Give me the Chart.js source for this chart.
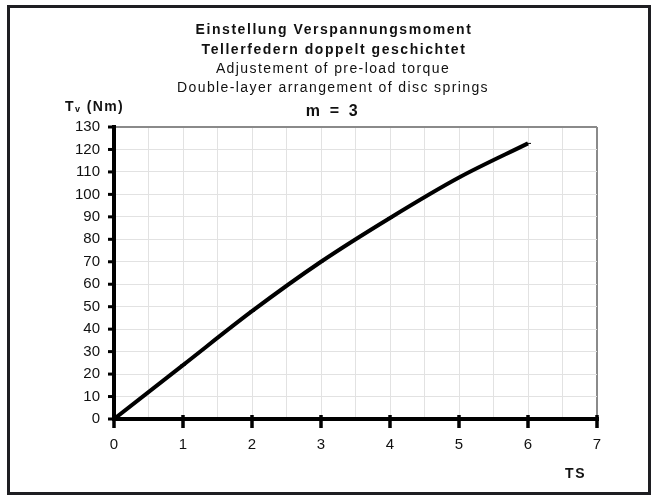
<!DOCTYPE html>
<html>
<head>
<meta charset="utf-8">
<script src="https://cdn.jsdelivr.net/npm/chart.js@4/dist/chart.umd.min.js"></script>
<style>
  html, body { margin: 0; padding: 0; background: #fff; }
  #wrap { position: relative; width: 651px; height: 496px; }
</style>
</head>
<body>
<div id="wrap"><canvas id="chart" width="651" height="496"></canvas></div>
<script>
// Verspannungsmoment über Teilstriche (TS), m = 3
var ts      = [0, 1, 2, 3, 4, 5, 6];
var torque  = [0, 24, 48, 70, 89.5, 107.5, 122.7];
var xTicks  = [0, 1, 2, 3, 4, 5, 6, 7];
var yTicks  = [0, 10, 20, 30, 40, 50, 60, 70, 80, 90, 100, 110, 120, 130];

var titleBold   = ['Einstellung Verspannungsmoment', 'Tellerfedern doppelt geschichtet'];
var titlePlain  = ['Adjustement of pre-load torque', 'Double-layer arrangement of disc springs'];
var subTitle    = 'm = 3';

var FONT = '"Liberation Sans", Arial, sans-serif';

// ── Rahmen, Achsen, Striche und Beschriftungen ─────────────────────────────
var decor = {
  id: 'decor',
  beforeDraw: function (chart) {
    var c = chart.ctx;
    c.save();
    c.fillStyle = '#fff';
    c.fillRect(0, 0, chart.width, chart.height);
    c.strokeStyle = '#1e1e22';
    c.lineWidth = 3;
    c.strokeRect(8.5, 6.5, 641, 487);
    c.restore();
  },
  afterDatasetsDraw: function (chart) {
    var c = chart.ctx, a = chart.chartArea;
    var xs = chart.scales.x, ys = chart.scales.y;
    c.save();
    c.strokeStyle = '#000';
    c.lineCap = 'butt';

    // Achsen
    c.lineWidth = 4;
    c.beginPath();
    c.moveTo(a.left, a.top - 2);
    c.lineTo(a.left, a.bottom);
    c.lineTo(a.right + 2, a.bottom);
    c.stroke();

    // Teilstriche
    c.lineWidth = 3.5;
    xTicks.forEach(function (v) {
      var px = xs.getPixelForValue(v);
      c.beginPath();
      c.moveTo(px, a.bottom - 4);
      c.lineTo(px, a.bottom + 9);
      c.stroke();
    });
    c.lineWidth = 3;
    yTicks.forEach(function (v) {
      var py = ys.getPixelForValue(v);
      c.beginPath();
      c.moveTo(a.left - 6, py);
      c.lineTo(a.left, py);
      c.stroke();
    });

    // Titel
    c.fillStyle = '#111';
    c.textAlign = 'center';
    c.textBaseline = 'middle';
    c.letterSpacing = '1.55px';
    c.font = 'bold 14px ' + FONT;
    c.fillText(titleBold[0], 334, 30);
    c.fillText(titleBold[1], 334, 50);
    c.letterSpacing = '1.4px';
    c.font = '14px ' + FONT;
    c.fillText(titlePlain[0], 333, 69);
    c.fillText(titlePlain[1], 333, 88);
    c.letterSpacing = '2.6px';
    c.font = 'bold 16px ' + FONT;
    c.fillText(subTitle, 333, 112);

    // Achsentitel
    c.textAlign = 'left';
    c.letterSpacing = '1.4px';
    c.font = 'bold 14px ' + FONT;
    c.fillText('T', 65, 107);
    var tw = c.measureText('T').width;
    c.font = 'bold 9px ' + FONT;
    c.fillText('v', 65 + tw, 110);
    var vw = c.measureText('v').width;
    c.font = 'bold 14px ' + FONT;
    c.fillText(' (Nm)', 65 + tw + vw, 107);

    c.letterSpacing = '1.8px';
    c.fillText('TS', 565, 474);
    c.restore();
  }
};

new Chart(document.getElementById('chart'), {
  type: 'line',
  data: {
    datasets: [{
      data: ts.map(function (x, i) { return { x: x, y: torque[i] }; }),
      borderColor: '#000',
      borderWidth: 4,
      cubicInterpolationMode: 'monotone',
      pointStyle: 'line',
      pointRadius: 3,
      pointBorderWidth: 1,
      pointBorderColor: '#000',
      fill: false
    }]
  },
  options: {
    responsive: false,
    animation: false,
    layout: { padding: { top: 127, right: 54, left: 0, bottom: 0 } },
    plugins: {
      legend: { display: false },
      tooltip: { enabled: false },
      title: { display: false }
    },
    scales: {
      x: {
        type: 'linear',
        min: 0,
        max: 7,
        afterFit: function (s) { s.height = 77; },
        afterBuildTicks: function (s) {
          var t = [];
          for (var v = 0; v <= 14; v++) t.push({ value: v / 2 });
          s.ticks = t;
        },
        grid: {
          drawTicks: false,
          color: function (ctx) { return ctx.tick && ctx.tick.value === 7 ? '#8a8a8a' : '#e2e2e2'; },
          lineWidth: function (ctx) { return ctx.tick && ctx.tick.value === 7 ? 2 : 1; }
        },
        border: { display: false },
        ticks: {
          padding: 17,
          autoSkip: false,
          maxRotation: 0,
          color: '#111',
          font: { family: FONT, size: 15 },
          callback: function (v) { return Number.isInteger(v) ? String(v) : ''; }
        }
      },
      y: {
        min: 0,
        max: 130,
        afterFit: function (s) { s.width = 114; },
        afterBuildTicks: function (s) {
          s.ticks = yTicks.map(function (v) { return { value: v }; });
        },
        grid: {
          drawTicks: false,
          color: function (ctx) { return ctx.tick && ctx.tick.value === 130 ? '#8a8a8a' : '#e2e2e2'; },
          lineWidth: function (ctx) { return ctx.tick && ctx.tick.value === 130 ? 2 : 1; }
        },
        border: { display: false },
        ticks: {
          padding: 14,
          color: '#111',
          font: { family: FONT, size: 15 }
        }
      }
    }
  },
  plugins: [decor]
});
</script>
</body>
</html>
